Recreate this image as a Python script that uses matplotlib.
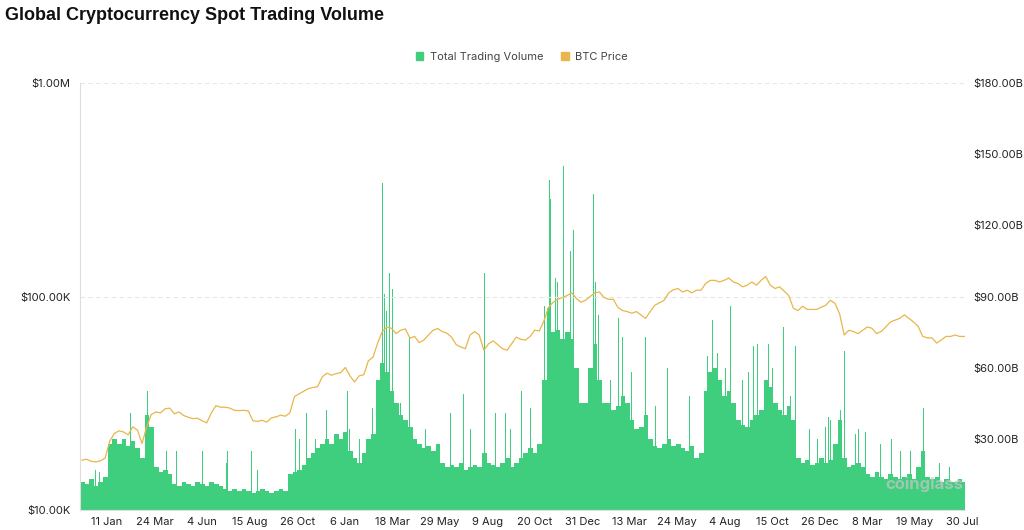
import matplotlib
matplotlib.use("Agg")
import matplotlib.pyplot as plt
import matplotlib.dates as mdates
from matplotlib.patches import Patch
from matplotlib.ticker import FuncFormatter, FixedLocator, NullLocator
import numpy as np
import pandas as pd

# weekly series, first week starts 1 Dec 2022
week_start = "2022-12-01"

# total spot trading volume, weekly typical level (billions USD)
volume_b = [
    12, 11, 13, 10, 12, 14, 28, 30, 28, 30, 27, 29, 26, 22, 40, 35, 18, 16, 17, 15,
    11, 10, 12, 11, 10, 12, 11, 10, 12, 11, 10, 9, 8, 9, 8, 9, 8, 7, 8, 9,
    8, 7, 8, 9, 8, 15, 16, 17, 19, 22, 24, 26, 28, 30, 28, 32, 30, 33, 25, 22,
    20, 24, 30, 32, 55, 62, 58, 50, 45, 40, 38, 35, 30, 28, 26, 27, 25, 28, 20, 18,
    19, 18, 20, 17, 18, 19, 18, 24, 20, 19, 18, 20, 22, 18, 20, 22, 24, 26, 24, 28,
    55, 85, 75, 76, 72, 75, 72, 60, 45, 45, 60, 70, 55, 45, 45, 42, 44, 48, 45, 38,
    34, 35, 40, 30, 27, 26, 28, 30, 27, 28, 26, 25, 27, 22, 24, 50, 58, 60, 55, 48,
    50, 45, 38, 36, 35, 38, 40, 42, 55, 52, 45, 42, 40, 44, 38, 22, 20, 21, 19, 20,
    22, 20, 21, 28, 38, 22, 18, 19, 20, 18, 15, 14, 16, 14, 13, 15, 14, 13, 14, 15,
    13, 18, 25, 14, 13, 14, 12, 13, 12, 12, 13, 12,
]

# BTC price, weekly (thousands USD)
btc_price_k = [
    17.1, 17.3, 16.9, 16.8, 17.0, 17.5, 21.0, 22.8, 23.5, 23.2, 22.5, 24.5, 23.7, 20.5, 24.5, 28.0,
    28.8, 28.5, 29.8, 30.0, 28.2, 28.8, 27.7, 27.2, 26.8, 26.9, 26.2, 25.6, 28.5, 30.8, 30.3, 30.3,
    30.0, 29.3, 29.2, 29.3, 29.1, 26.2, 26.0, 26.3, 25.8, 27.0, 27.3, 27.8, 27.5, 28.5, 34.0, 35.0,
    36.0, 37.0, 37.5, 37.8, 42.0, 43.7, 42.8, 43.5, 44.0, 46.5, 42.5, 39.8, 42.5, 43.0, 50.0, 52.0,
    60.5, 68.5, 72.0, 71.0, 67.0, 69.5, 70.5, 63.8, 65.0, 60.8, 62.5, 66.0, 69.5, 70.8, 68.5, 67.3,
    64.5, 59.5, 58.0, 57.0, 66.0, 68.5, 66.0, 56.0, 60.0, 62.0, 59.5, 57.0, 56.0, 60.0, 64.5, 63.0,
    62.5, 65.0, 69.5, 69.0, 77.0, 89.0, 94.0, 97.0, 99.0, 101.0, 104.0, 98.0, 94.0, 96.0, 100.0, 104.0,
    105.0, 99.0, 97.0, 97.0, 89.0, 86.0, 85.0, 83.5, 85.0, 82.0, 79.0, 85.0, 91.0, 93.5, 96.0, 104.0,
    107.5, 109.0, 105.0, 107.0, 104.0, 107.0, 107.0, 115.0, 119.0, 119.0, 117.0, 119.0, 122.0, 117.0, 115.0, 111.0,
    113.0, 117.0, 113.0, 119.0, 124.0, 113.0, 109.0, 111.0, 106.0, 101.0, 88.0, 86.0, 90.0, 87.0, 87.0, 87.0,
    89.0, 91.0, 96.0, 93.0, 83.0, 66.0, 69.5, 68.5, 67.0, 69.5, 72.0, 71.0, 67.0, 68.5, 72.0, 76.0,
    77.5, 79.0, 82.0, 79.0, 76.0, 72.5, 65.0, 64.0, 64.0, 60.5, 62.5, 65.0, 65.0, 66.0, 65.0, 65.0,
]

# single days with much higher volume (billions USD)
spike_days = [
    "2023-01-14", "2023-02-16", "2023-03-13", "2023-04-11", "2023-07-13", "2023-08-18",
    "2023-10-23", "2023-11-09", "2023-12-10", "2024-01-02", "2024-01-10", "2024-02-17",
    "2024-02-27", "2024-03-04", "2024-03-06", "2024-03-10", "2024-03-14", "2024-03-19",
    "2024-04-13", "2024-05-22", "2024-07-04", "2024-08-05", "2024-09-06", "2024-09-30",
    "2024-10-14", "2024-11-04", "2024-11-11", "2024-11-13", "2024-11-21", "2024-11-23",
    "2024-12-02", "2024-12-03", "2024-12-08", "2024-12-13", "2024-12-18", "2025-01-17",
    "2025-01-20", "2025-01-25", "2025-02-02", "2025-02-24", "2025-03-02", "2025-04-06",
    "2025-05-09", "2025-05-22", "2025-06-11", "2025-07-09", "2025-07-16", "2025-08-13",
    "2025-08-21", "2025-09-17", "2025-09-22", "2025-10-07", "2025-10-09", "2025-11-01",
    "2025-11-19", "2026-01-03", "2026-01-08", "2026-01-27", "2026-02-01", "2026-02-22",
    "2026-04-13", "2026-06-01",
]
spike_volume_b = [
    41, 41, 50, 25, 25, 25,
    34, 41, 42, 53, 50, 43,
    84, 138, 91, 84, 100, 93,
    73, 55, 49, 100, 41, 50,
    43, 86, 139, 131, 98, 96,
    128, 145, 115, 109, 118, 133,
    96, 82, 158, 81, 73, 73,
    60, 53, 48, 65, 80, 86,
    73, 69, 70, 112, 70, 77,
    69, 35, 39, 42, 67, 34,
    30, 43,
]

# smaller daily peaks above the weekly level (billions USD)
minor_days = [
    "2022-12-24", "2022-12-31", "2023-04-26", "2023-06-05", "2023-06-28", "2023-07-11",
    "2023-08-27", "2023-09-30", "2023-10-30", "2023-11-23", "2023-12-30", "2024-01-14",
    "2024-01-29", "2024-03-31", "2024-05-07", "2024-06-14", "2024-07-15", "2024-08-22",
    "2024-09-13", "2024-12-25", "2025-02-12", "2025-03-16", "2025-04-21", "2025-05-16",
    "2025-06-23", "2025-07-24", "2025-08-05", "2025-08-31", "2025-09-09", "2025-10-15",
    "2025-11-11", "2025-11-26", "2025-12-11", "2025-12-23", "2026-01-11", "2026-02-18",
    "2026-03-05", "2026-03-28", "2026-04-27", "2026-05-12", "2026-06-26", "2026-07-11",
]
minor_volume_b = [
    17, 16, 25, 25, 22, 20,
    17, 15, 30, 30, 34, 34,
    30, 45, 34, 41, 34, 41,
    34, 58, 55, 58, 44, 53,
    48, 66, 60, 55, 58, 60,
    48, 35, 34, 30, 38, 32,
    33, 28, 25, 25, 20, 18,
]

tick_dates = pd.date_range("2023-01-11", periods=19, freq="72D")

GREEN = "#3fcd7e"
YELLOW = "#e8b64a"

plt.rcParams["font.family"] = ["Inter", "DejaVu Sans"]

fig = plt.figure(figsize=(10.24, 5.3), dpi=100)
ax = fig.add_axes([80 / 1024, 20 / 530, 885 / 1024, 427 / 530])

weeks = pd.date_range(week_start, periods=len(volume_b), freq="7D")
ax.bar(weeks, volume_b, width=7, align="edge", color=GREEN, linewidth=0)
ax.bar(pd.to_datetime(minor_days), minor_volume_b, width=1.3, color=GREEN, linewidth=0)
ax.bar(pd.to_datetime(spike_days), spike_volume_b, width=1.3, color=GREEN, linewidth=0)

ax2 = ax.twinx()
price_dates = weeks + pd.Timedelta(days=3)
ax2.plot(price_dates, np.array(btc_price_k) * 1000, color=YELLOW, lw=0.9)

# volume axis on the right
ax.set_ylim(0, 180)
ax.yaxis.tick_right()
ax.yaxis.set_major_locator(FixedLocator([30, 60, 90, 120, 150, 180]))
ax.yaxis.set_major_formatter(FuncFormatter(lambda v, p: f"${v:.2f}B"))

ax.set_xlim(pd.Timestamp("2022-12-01"), pd.Timestamp("2026-08-03"))
ax.xaxis.set_major_locator(FixedLocator(mdates.date2num(tick_dates)))
ax.xaxis.set_major_formatter(mdates.DateFormatter("%-d %b"))

# price axis on the left, log scale
ax2.set_yscale("log")
ax2.set_ylim(1e4, 1e6)
ax2.yaxis.tick_left()
ax2.yaxis.set_major_locator(FixedLocator([1e4, 1e5, 1e6]))
ax2.yaxis.set_minor_locator(NullLocator())
ax2.yaxis.set_major_formatter(FuncFormatter(
    lambda v, p: "$1.00M" if v >= 1e6 else f"${v / 1000:.2f}K"))
ax2.grid(True, axis="y", color="#e6e6e6", ls=(0, (4, 3)), lw=0.8)

for a in (ax, ax2):
    for s in ("top", "right", "left", "bottom"):
        a.spines[s].set_visible(False)
    a.tick_params(length=0, labelsize=8, labelcolor="#222222")
ax2.spines["left"].set_visible(True)
ax2.spines["left"].set_color("#dddddd")
ax.spines["bottom"].set_visible(True)
ax.spines["bottom"].set_color("#dddddd")
ax.tick_params(axis="x", pad=5)
ax.tick_params(axis="y", pad=6)
ax2.tick_params(axis="y", pad=7)

fig.text(5 / 1024, 1 - 15 / 530, "Global Cryptocurrency Spot Trading Volume",
         fontsize=13, fontweight="bold", color="#111111", va="center",
         family=["Liberation Sans", "DejaVu Sans"])

handles = [Patch(color=GREEN, label="Total Trading Volume"),
           Patch(color=YELLOW, label="BTC Price")]
fig.legend(handles=handles, loc="center", bbox_to_anchor=(522 / 1024, 1 - 57 / 530),
           ncol=2, frameon=False, fontsize=8, labelcolor="#444444",
           handlelength=0.65, handleheight=0.65, handletextpad=0.6, columnspacing=1.6)

ax.text(0.998, 0.06, "coinglass", transform=ax.transAxes, ha="right", va="center",
        fontsize=12, fontweight="bold", color="#c8c8c8", alpha=0.7, zorder=5)

fig.savefig("out.png", dpi=100)
